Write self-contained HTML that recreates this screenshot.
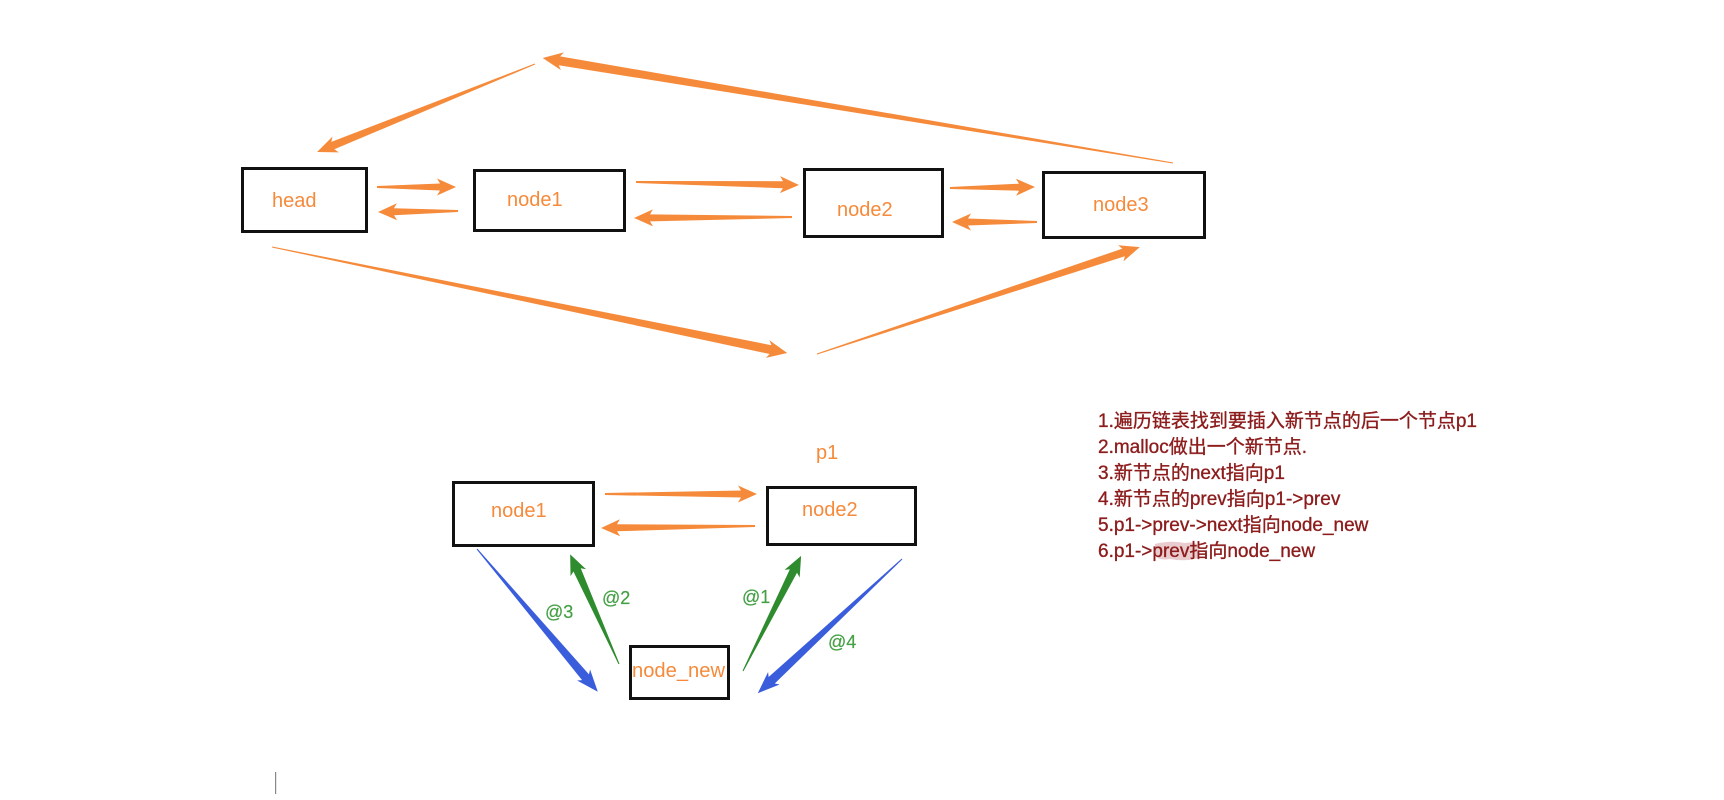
<!DOCTYPE html>
<html>
<head>
<meta charset="utf-8">
<style>
html,body{margin:0;padding:0;background:#fff;}
body{width:1724px;height:800px;overflow:hidden;}
svg{display:block;}
.lbl{font-family:"Liberation Sans","Noto Sans CJK SC",sans-serif;font-size:20px;fill:#f68a3b;}
.at{font-family:"Liberation Sans",sans-serif;font-size:18px;fill:#45a045;stroke:#45a045;stroke-width:0.2;}
.rt{font-family:"Liberation Sans","Noto Sans CJK SC",sans-serif;font-size:19px;fill:#8c1c1c;stroke:#8c1c1c;stroke-width:0.35;}
</style>
</head>
<body>
<svg width="1724" height="800" viewBox="0 0 1724 800" xmlns="http://www.w3.org/2000/svg">
  <rect width="1724" height="800" fill="#fff"/>

  <!-- boxes -->
  <g fill="none" stroke="#111" stroke-width="3">
    <rect x="242.5" y="168.5" width="124" height="63"/>
    <rect x="474.5" y="170.5" width="150" height="60"/>
    <rect x="804.5" y="169.5" width="138" height="67"/>
    <rect x="1043.5" y="172.5" width="161" height="65"/>
    <rect x="453.5" y="482.5" width="140" height="63"/>
    <rect x="767.5" y="487.5" width="148" height="57"/>
    <rect x="630.5" y="646.5" width="98" height="52"/>
  </g>

  <!-- top labels -->
  <text class="lbl" x="272" y="207">head</text>
  <text class="lbl" x="507" y="206">node1</text>
  <text class="lbl" x="837" y="216">node2</text>
  <text class="lbl" x="1093" y="211">node3</text>

  <!-- orange arrows -->
  <g fill="#f68a3b">
    <g transform="translate(377 187) rotate(0)"><polygon points="0,-1 63,-3.5 60,-8.5 79,0 60,8.5 63,3.5 0,1"/></g>
    <g transform="translate(458 211) rotate(179.3)"><polygon points="0,-1 64,-3.5 61,-8.5 80,0 61,8.5 64,3.5 0,1"/></g>
    <g transform="translate(636 182) rotate(1.05)"><polygon points="0,-1 147,-3.5 144,-8.5 163,0 144,8.5 147,3.5 0,1"/></g>
    <g transform="translate(792 217) rotate(179.64)"><polygon points="0,-1 142,-3.5 139,-8.5 158,0 139,8.5 142,3.5 0,1"/></g>
    <g transform="translate(950 188) rotate(-0.67)"><polygon points="0,-1 69,-3.5 66,-8.5 85,0 66,8.5 69,3.5 0,1"/></g>
    <g transform="translate(1037 222) rotate(180)"><polygon points="0,-1 69,-3.5 66,-8.5 85,0 66,8.5 69,3.5 0,1"/></g>
    <g transform="translate(535 64) rotate(158.02)"><polygon points="0,-0.5 218,-4 215,-8.5 235,0 215,8.5 218,4 0,0.5"/></g>
    <g transform="translate(1173 163) rotate(189.46)"><polygon points="0,-0.5 622,-4.5 619,-9 639,0 619,9 622,4.5 0,0.5"/></g>
    <g transform="translate(272 247) rotate(11.63)"><polygon points="0,-0.5 509,-4.5 506,-9 526,0 506,9 509,4.5 0,0.5"/></g>
    <g transform="translate(817 354) rotate(-18.33)"><polygon points="0,-0.5 323,-4 320,-8.5 340,0 320,8.5 323,4 0,0.5"/></g>
    <g transform="translate(605 494) rotate(0)"><polygon points="0,-1 136,-3.5 133,-8.5 152,0 133,8.5 136,3.5 0,1"/></g>
    <g transform="translate(755 526) rotate(179.26)"><polygon points="0,-1 138,-3.5 135,-8.5 154,0 135,8.5 138,3.5 0,1"/></g>
  </g>

  <!-- blue arrows -->
  <g fill="#3a5ddb">
    <g transform="translate(477 549) rotate(49.76)"><polygon points="0,-0.5 168,-4.5 165,-8.5 187,0 165,8.5 168,4.5 0,0.5"/></g>
    <g transform="translate(902 559) rotate(137.06)"><polygon points="0,-0.5 178,-4.5 175,-8.5 197,0 175,8.5 178,4.5 0,0.5"/></g>
  </g>
  <!-- green arrows -->
  <g fill="#2e8b2e">
    <g transform="translate(619 664) rotate(-114.01)"><polygon points="0,-0.5 103,-4 100,-8.5 120,0 100,8.5 103,4 0,0.5"/></g>
    <g transform="translate(743 671) rotate(-63.23)"><polygon points="0,-0.5 112,-4 109,-8.5 129,0 109,8.5 112,4 0,0.5"/></g>
  </g>

  <!-- bottom labels -->
  <text class="lbl" x="816" y="459">p1</text>
  <text class="lbl" x="491" y="517">node1</text>
  <text class="lbl" x="802" y="516">node2</text>
  <text class="lbl" x="632" y="677" textLength="93" lengthAdjust="spacingAndGlyphs">node_new</text>

  <text class="at" x="545" y="618">@3</text>
  <text class="at" x="602" y="604">@2</text>
  <text class="at" x="742" y="603">@1</text>
  <text class="at" x="828" y="648">@4</text>

  <!-- highlight behind prev -->
  <path d="M1155,544 Q1170,540 1185,543 Q1198,541 1199,548 L1199,558 Q1185,562 1170,559 Q1158,561 1155,555 Z" fill="#e6c3c6" opacity="0.85"/>

  <!-- right text -->
  <text class="rt" x="1098" y="427">1.遍历链表找到要插入新节点的后一个节点p1</text>
  <text class="rt" x="1098" y="453">2.malloc做出一个新节点.</text>
  <text class="rt" x="1098" y="479">3.新节点的next指向p1</text>
  <text class="rt" x="1098" y="505">4.新节点的prev指向p1-&gt;prev</text>
  <text class="rt" x="1098" y="531">5.p1-&gt;prev-&gt;next指向node_new</text>
  <text class="rt" x="1098" y="557">6.p1-&gt;prev指向node_new</text>

  <!-- caret line -->
  <rect x="275" y="772" width="1.2" height="22" fill="#888"/>
</svg>
</body>
</html>
